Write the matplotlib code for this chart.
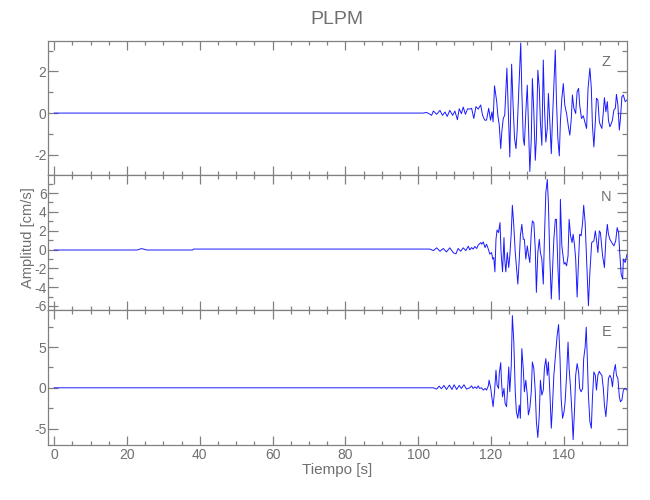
import matplotlib
matplotlib.use("Agg")
import matplotlib.pyplot as plt
from matplotlib.ticker import MultipleLocator

plt.rcParams['font.family'] = ['Liberation Sans', 'DejaVu Sans']
plt.rcParams['axes.unicode_minus'] = False

# --- data (time [s], amplitude [cm/s]) ---
# Z component
t_z_pre = [0, 101.4, 102.3, 103.2, 103.7, 104.2, 105.1, 106.0, 106.7, 107.4,
           108.0, 108.7, 109.5, 110.1, 110.8, 111.3, 111.9, 112.4, 113.0, 113.6]
z_pre = [0, 0, 0.03, -0.05, -0.11, 0.10, -0.06, 0.13, -0.11, 0.05,
         -0.16, 0.13, -0.11, 0.10, -0.32, 0.21, -0.03, 0.29, -0.06, 0.21]
t_z = [114.2, 114.7, 115.3, 115.9, 116.5, 117.2, 117.7, 118.3, 118.8, 119.4,
       119.9, 120.3, 120.6, 121.0, 121.6, 121.9, 122.3, 122.7, 123.0, 123.4,
       123.8, 124.1, 124.4, 124.9, 125.2, 125.7, 126.1, 126.5, 126.9, 127.2,
       127.8, 128.2, 128.5, 128.9, 129.2, 129.6, 130.0, 130.3, 130.7, 131.1,
       131.4, 131.8, 132.2, 132.5, 132.9, 133.3, 133.6, 134.0, 134.4, 134.7,
       135.1, 135.5, 135.8, 136.2, 136.6, 136.9, 137.3, 137.7, 138.0, 138.4,
       138.8, 139.1, 139.5, 139.9, 140.3, 140.8, 141.3, 141.7, 142.1, 142.4,
       142.8, 143.3, 143.7, 144.1, 144.4, 144.9, 145.4, 145.8, 146.3, 146.7,
       147.2, 147.6, 147.9, 148.3, 148.7, 149.0, 149.4, 149.8, 150.1, 150.5,
       150.9, 151.2, 151.6, 152.0, 152.3, 152.7, 153.1, 153.4, 153.8, 154.2,
       154.5, 154.9, 155.3, 155.6, 156.0, 156.4, 156.9, 157.4]
z_amp = [0.19, 0.23, -0.26, 0.31, 0.19, 0.39, -0.10, -0.34, -0.34, 0.23,
         -0.34, 0.06, -0.42, 1.31, 0.55, -0.10, -0.58, -1.71, -0.90, -0.26,
         -0.10, 1.03, 2.16, -0.58, -2.11, 2.35, 0.39, -1.23, -1.71, -0.90,
         1.68, 3.37, 1.03, -1.23, -1.55, 0.06, 1.34, -0.42, -2.81, -1.23,
         1.66, 0.06, -2.27, -1.23, 2.06, 1.19, -0.42, -1.55, 2.55, 0.39,
         -1.39, -0.74, 0.95, -0.42, -1.95, -0.42, 1.35, 3.03, 0.71, -1.23,
         -2.06, -0.42, 0.71, 1.42, 0.39, -0.02, -0.66, -1.06, -0.26, 0.87,
         0.23, -0.02, 1.03, 1.19, 0.39, -0.26, -0.13, -0.42, -0.74, 1.19,
         2.16, 1.19, -0.58, -1.63, -0.42, 0.71, 0.63, -0.42, -0.58, -0.74,
         0.06, 0.74, 0.06, 0.55, -0.34, -0.66, -0.50, -0.34, 0.15, 0.23,
         0.90, 0.39, -0.82, -0.26, 0.79, 0.87, 0.55, 0.63]

# N component
t_n_pre = [0, 22.8, 24.0, 25.5, 38.0, 38.3, 103.2, 104.2, 105.1, 106.0,
           106.9, 107.8, 108.7, 109.7, 110.4, 111.0, 111.7, 112.4, 113.1, 113.8]
n_pre = [-0.05, -0.05, 0.10, -0.05, -0.05, 0.05, 0.05, -0.11, 0.18, -0.18,
         0.11, -0.25, 0.18, -0.35, -0.46, 0.11, -0.18, 0.18, -0.11, 0.35]
t_n = [114.2, 114.7, 115.1, 115.6, 116.1, 116.5, 117.2, 117.5, 117.9, 118.4,
       118.8, 119.3, 119.7, 120.2, 120.5, 120.8, 121.1, 121.4, 121.7, 122.1,
       122.5, 122.8, 123.2, 123.6, 123.8, 124.1, 124.5, 124.9, 125.2, 125.6,
       125.9, 126.3, 126.7, 127.0, 127.4, 127.8, 128.1, 128.5, 128.9, 129.2,
       129.6, 130.0, 130.3, 130.7, 131.1, 131.4, 131.8, 132.2, 132.5, 132.9,
       133.3, 133.6, 134.0, 134.4, 134.7, 135.1, 135.5, 135.8, 136.2, 136.6,
       136.9, 137.3, 137.7, 138.0, 138.4, 138.8, 139.1, 139.5, 140.1, 140.4,
       140.8, 141.2, 141.5, 141.9, 142.3, 142.6, 143.0, 143.3, 143.7, 144.1,
       144.4, 144.8, 145.2, 145.5, 145.9, 146.3, 146.8, 147.2, 147.7, 148.3,
       148.7, 149.0, 149.4, 149.8, 150.1, 150.7, 151.2, 151.6, 152.0, 152.3,
       152.7, 153.2, 153.8, 154.3, 154.7, 155.1, 155.4, 155.8, 156.2, 156.4,
       156.9, 157.4]
n_amp = [-0.04, 0.21, 0.04, 0.32, 0.11, 0.46, 0.74, 0.56, 0.81, 0.21,
         0.56, 0.04, -0.49, -0.32, -1.02, -0.85, -2.37, 1.09, 2.08, 1.80,
         2.86, -0.32, -2.37, 1.27, -1.02, -2.37, -0.32, -1.91, -0.67, 1.80,
         4.70, 2.51, -0.32, -1.73, -3.67, -1.02, 1.45, 2.68, 1.09, 1.09,
         -1.02, 0.39, -0.49, -1.38, 1.80, 3.04, 2.86, 0.04, -4.55, -0.32,
         1.09, -0.32, -1.02, -3.67, 1.09, 6.04, 7.45, 4.98, -1.02, -5.26,
         -2.44, 1.09, 3.21, 3.21, -1.73, -5.33, 5.33, 0.39, -1.55, -1.38,
         -1.73, -0.67, 3.21, 1.45, 0.74, 1.63, 0.39, -1.02, -5.05, -1.02,
         1.63, 1.45, 2.86, 4.70, 2.86, -1.02, -5.97, -2.44, 0.74, 0.92,
         1.98, 1.09, -0.32, 1.98, 1.80, -0.67, -1.91, 1.09, 2.68, 1.63,
         1.09, 0.74, 0.39, 0.92, 2.33, 1.80, -0.32, -2.62, -3.14, -1.02,
         -1.38, -0.50]

# E component
t_e_pre = [0, 104.2, 105.1, 105.8, 106.4, 107.1, 107.8, 108.6, 109.3, 109.9,
           110.6, 111.3, 111.9, 112.6, 113.3]
e_pre = [0, 0, -0.16, 0.20, -0.12, 0.29, -0.20, 0.33, -0.20, 0.37,
         -0.20, 0.29, -0.08, 0.37, -0.16]
t_e = [114.2, 114.7, 115.1, 115.6, 116.1, 116.5, 116.9, 117.4, 117.9, 118.4,
       118.8, 119.3, 119.5, 119.9, 120.3, 120.6, 121.0, 121.4, 121.6, 121.7,
       122.1, 122.3, 122.7, 122.9, 123.2, 123.6, 123.9, 124.3, 124.7, 124.9,
       125.2, 125.6, 125.9, 126.3, 126.7, 127.0, 127.4, 127.8, 128.1, 128.5,
       128.9, 129.2, 129.6, 130.0, 130.3, 130.7, 131.1, 131.4, 131.8, 132.2,
       132.5, 132.9, 133.3, 133.6, 134.0, 134.4, 134.7, 135.1, 135.5, 135.8,
       136.2, 136.6, 136.9, 137.3, 137.9, 138.2, 138.6, 139.0, 139.3, 139.7,
       140.1, 140.4, 140.8, 141.2, 141.5, 141.9, 142.3, 142.6, 143.0, 143.3,
       143.7, 144.1, 144.4, 144.8, 145.2, 145.5, 145.9, 146.2, 146.5, 146.8,
       147.2, 147.6, 147.9, 148.3, 148.7, 149.0, 149.4, 149.8, 150.1, 150.5,
       150.9, 151.2, 151.6, 152.0, 152.3, 152.7, 153.1, 153.4, 153.8, 154.2,
       154.5, 154.9, 155.3, 155.6, 156.0, 156.4, 156.8, 157.4]
e_amp = [0.00, 0.24, -0.08, 0.12, -0.08, 0.24, -0.08, 0.00, -0.28, -0.08,
         -0.28, 0.24, 0.93, 0.12, -1.30, -2.32, -0.49, 2.15, 0.93, 0.33,
         -0.08, 1.75, 3.09, 0.93, -1.10, -0.08, -1.91, -2.32, 0.73, 2.56,
         -0.49, 2.76, 8.86, 5.61, -0.49, -2.93, -3.74, -2.11, -3.74, 4.80,
         2.32, -0.49, 0.93, -0.89, -3.33, -2.52, -0.49, 3.17, 2.36, -0.49,
         -4.15, -6.10, -3.33, 0.93, -0.89, -0.28, 2.36, 3.58, 1.54, 3.17,
         -0.49, -4.96, -2.52, 1.54, 4.80, 6.42, 7.76, 3.58, -1.30, -3.74,
         -2.93, -1.71, 1.54, 5.61, 2.36, -0.08, -3.33, -6.36, -2.52, 1.54,
         2.97, 1.95, -0.08, -0.49, -0.08, 3.58, 5.00, 7.44, 3.58, -0.89,
         -4.15, -4.96, -1.30, 1.95, 1.54, -0.28, 1.54, 2.03, 1.75, 1.54,
         -0.08, -2.11, -3.54, -1.30, 1.14, 1.54, 1.14, 0.12, 1.95, 2.85,
         1.54, 1.14, -1.10, -1.71, -1.50, -0.28, -0.08, -0.28]

components = ['Z', 'N', 'E']
ylims = [(-3.0, 3.48), (-6.45, 7.87), (-7.02, 9.52)]
y_major = [2, 2, 5]
y_minor = [1, 1, 2.5]

grey = '#808080'
txt = '#707070'

fig, axs = plt.subplots(3, 1, figsize=(6.5, 5), dpi=100, sharex=True,
                        gridspec_kw={'hspace': 0})
fig.subplots_adjust(left=0.0737, right=0.9646, bottom=0.11, top=0.9186)

series = [(t_z_pre + t_z, z_pre + z_amp),
          (t_n_pre + t_n, n_pre + n_amp),
          (t_e_pre + t_e, e_pre + e_amp)]

for ax, (tt, aa), comp, yl, ma, mi in zip(axs, series, components, ylims, y_major, y_minor):
    ax.plot(tt, aa, color='#1a1aff', lw=0.7)
    ax.set_xlim(-1.73, 157.4)
    ax.set_ylim(*yl)
    ax.xaxis.set_major_locator(MultipleLocator(20))
    ax.xaxis.set_minor_locator(MultipleLocator(5))
    ax.yaxis.set_major_locator(MultipleLocator(ma))
    ax.yaxis.set_minor_locator(MultipleLocator(mi))
    for s in ax.spines.values():
        s.set_color(grey)
        s.set_linewidth(0.9)
    ax.tick_params(which='both', direction='in', top=True, right=True,
                   color=grey, labelcolor=txt, labelsize=10, width=0.9)
    ax.tick_params(axis='x', which='major', length=6.3, pad=2)
    ax.tick_params(axis='x', which='minor', length=3.1)
    ax.tick_params(axis='y', which='major', length=7.5, pad=1)
    ax.tick_params(axis='y', which='minor', length=3.5)
    ax.text(0.964, 0.84, comp, transform=ax.transAxes, color=txt,
            fontsize=10.5, ha='center', va='center')

axs[2].set_xlabel('Tiempo [s]', color=txt, fontsize=11, labelpad=1)
fig.text(0.043, 0.524, 'Amplitud [cm/s]', rotation=90, color=txt,
         fontsize=10.5, ha='center', va='center')
fig.text(0.519, 0.962, 'PLPM', color=txt, fontsize=14, ha='center', va='center')

fig.savefig('out.png', dpi=100)
